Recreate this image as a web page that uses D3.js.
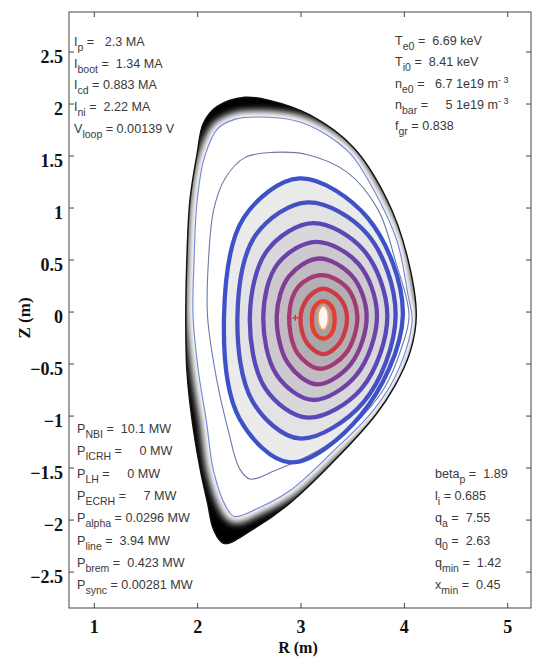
<!DOCTYPE html>
<html>
<head>
<meta charset="utf-8">
<script src="https://cdn.jsdelivr.net/npm/d3@7"></script>
<style>
  body { margin: 0; background: #fff; }
  text { white-space: pre; }
</style>
</head>
<body>
<div id="chart"></div>
<script>
// axis ticks
const xTicks = [1, 2, 3, 4, 5];
const yTicks = [-2.5, -2, -1.5, -1, -0.5, 0, 0.5, 1, 1.5, 2, 2.5];

// last closed flux surface (R, Z in m)
const boundary = [
  [2.46, 2.06], [2.70, 2.03], [3.09, 1.89], [3.51, 1.58], [3.84, 1.07], [4.03, 0.54],
  [4.12, -0.04], [4.06, -0.39], [3.91, -0.72], [3.73, -0.99], [3.38, -1.38], [2.90, -1.84],
  [2.56, -2.08], [2.26, -2.23], [2.16, -2.10], [2.10, -1.84], [2.03, -1.52], [1.95, -1.04],
  [1.90, -0.56], [1.89, -0.04], [1.90, 0.50], [1.93, 1.07], [2.00, 1.52], [2.06, 1.81], [2.19, 1.97]
];

// two thin outer flux contours
const thinOuter = [
  [2.58, 1.87], [2.97, 1.83], [3.22, 1.72], [3.48, 1.52], [3.68, 1.22], [3.93, 0.69], [4.04, 0.16],
  [4.08, -0.08], [4.02, -0.37], [3.87, -0.71], [3.67, -0.99], [3.33, -1.33], [2.90, -1.72],
  [2.59, -1.89], [2.36, -1.97], [2.28, -1.88], [2.16, -1.54], [2.09, -1.06], [2.01, -0.56],
  [1.96, -0.04], [1.97, 0.50], [2.00, 1.07], [2.07, 1.48], [2.20, 1.76], [2.37, 1.85]
];
const thinInner = [
  [2.73, 1.53], [3.06, 1.51], [3.45, 1.34], [3.75, 0.98], [3.92, 0.48], [4.05, -0.04],
  [3.97, -0.37], [3.82, -0.72], [3.63, -0.97], [3.38, -1.20], [3.09, -1.38], [2.75, -1.53],
  [2.51, -1.61], [2.41, -1.51], [2.30, -1.14], [2.19, -0.66], [2.10, -0.04], [2.11, 0.50],
  [2.16, 0.98], [2.27, 1.28], [2.46, 1.48]
];

// thick flux contours, outer to inner (right, upper right, top, upper left, left, lower left, bottom, lower right)
const rings = [
  [[3.99, -0.04], [3.65, 0.90], [2.99, 1.28], [2.45, 0.90], [2.26, -0.04], [2.41, -1.03], [2.90, -1.45], [3.58, -1.00]],
  [[3.92, -0.04], [3.65, 0.74], [3.07, 1.05], [2.57, 0.74], [2.39, -0.04], [2.54, -0.87], [2.99, -1.22], [3.61, -0.87]],
  [[3.84, -0.04], [3.61, 0.59], [3.12, 0.85], [2.68, 0.59], [2.51, -0.04], [2.66, -0.74], [3.07, -1.02], [3.59, -0.74]],
  [[3.74, -0.04], [3.56, 0.46], [3.15, 0.67], [2.78, 0.46], [2.64, -0.04], [2.77, -0.61], [3.12, -0.85], [3.54, -0.61]],
  [[3.64, -0.04], [3.50, 0.34], [3.18, 0.51], [2.89, 0.34], [2.77, -0.04], [2.88, -0.50], [3.16, -0.70], [3.49, -0.50]],
  [[3.55, -0.04], [3.44, 0.24], [3.20, 0.35], [2.98, 0.24], [2.89, -0.04], [2.97, -0.40], [3.19, -0.55], [3.44, -0.40]],
  [[3.45, -0.06], [3.38, 0.13], [3.22, 0.22], [3.07, 0.13], [3.00, -0.06], [3.06, -0.30], [3.22, -0.41], [3.38, -0.30]],
  [[3.33, -0.06], [3.30, 0.05], [3.22, 0.10], [3.14, 0.05], [3.11, -0.06], [3.14, -0.21], [3.22, -0.26], [3.30, -0.21]]
];
const ringColors = ["#3d52c9", "#4650c2", "#5848b8", "#6b42aa", "#7f3d94", "#a33a72", "#cc3a48", "#e63e2e"];
const ringFills = ["#ebebeb", "#e3e2e4", "#d9d7da", "#cdcacf", "#c0bcc1", "#b3afb3", "#a8a6a8", "#a0a0a0"];

// hot core spot and magnetic axis marker
const coreSpot = [[3.27, -0.06], [3.255, 0.02], [3.22, 0.055], [3.185, 0.02], [3.17, -0.06], [3.185, -0.14], [3.22, -0.175], [3.255, -0.14]];
const axisMark = [2.95, -0.06];

// annotation blocks: [symbol, subscript, rest, superscript]
const infoTopLeft = [
  ["I", "p", " =   2.3 MA"],
  ["I", "boot", " =  1.34 MA"],
  ["I", "cd", " = 0.883 MA"],
  ["I", "ni", " =  2.22 MA"],
  ["V", "loop", " = 0.00139 V"]
];
const infoTopRight = [
  ["T", "e0", " =  6.69 keV"],
  ["T", "i0", " =  8.41 keV"],
  ["n", "e0", " =   6.7 1e19 m", "- 3"],
  ["n", "bar", " =     5 1e19 m", "- 3"],
  ["f", "gr", " = 0.838"]
];
const infoBottomLeft = [
  ["P", "NBI", " =  10.1 MW"],
  ["P", "ICRH", " =     0 MW"],
  ["P", "LH", " =     0 MW"],
  ["P", "ECRH", " =     7 MW"],
  ["P", "alpha", " = 0.0296 MW"],
  ["P", "line", " =  3.94 MW"],
  ["P", "brem", " =  0.423 MW"],
  ["P", "sync", " = 0.00281 MW"]
];
const infoBottomRight = [
  ["beta", "p", " =  1.89"],
  ["l", "i", " = 0.685"],
  ["q", "a", " =  7.55"],
  ["q", "0", " =  2.63"],
  ["q", "min", " =  1.42"],
  ["x", "min", " =  0.45"]
];

// set the dimensions and margins of the plot
const margin = {top: 12, right: 3, bottom: 51, left: 69},
  width = 534 - margin.left - margin.right,
  height = 659 - margin.top - margin.bottom;

const svg = d3.select("#chart")
  .append("svg")
  .attr("width", 534)
  .attr("height", 659);

const g = svg.append("g")
  .attr("transform", `translate(${margin.left},${margin.top})`);

const x = d3.scaleLinear().domain([0.76, 5.23]).range([0, width]);
const y = d3.scaleLinear().domain([-2.85, 2.88]).range([height, 0]);

const contour = d3.line()
  .x(d => x(d[0]))
  .y(d => y(d[1]))
  .curve(d3.curveCatmullRomClosed.alpha(0.5));

const defs = svg.append("defs");
defs.append("clipPath").attr("id", "plasma")
  .append("path").attr("d", contour(boundary));
defs.append("filter").attr("id", "soft")
  .attr("x", "-20%").attr("y", "-20%").attr("width", "140%").attr("height", "140%")
  .append("feGaussianBlur").attr("stdDeviation", 3.5);

// dark edge fading to white inside the plasma
g.append("path").attr("d", contour(boundary)).attr("fill", "#000");
g.append("g").attr("clip-path", "url(#plasma)")
  .append("path")
  .attr("d", contour(thinOuter))
  .attr("fill", "#fff").attr("stroke", "#fff").attr("stroke-width", 13)
  .attr("filter", "url(#soft)");

// gray fills inside the thick contours
g.append("g").selectAll("path")
  .data(rings)
  .join("path")
  .attr("d", d => contour(d))
  .attr("fill", (d, i) => ringFills[i]);

// thin contours
g.append("path").attr("d", contour(thinOuter))
  .attr("fill", "none").attr("stroke", "#7286d8").attr("stroke-width", 1.1);
g.append("path").attr("d", contour(thinInner))
  .attr("fill", "none").attr("stroke", "#6d7aa6").attr("stroke-width", 1.1);

// thick contours
g.append("g").selectAll("path")
  .data(rings)
  .join("path")
  .attr("d", d => contour(d))
  .attr("fill", "none")
  .attr("stroke", (d, i) => ringColors[i])
  .attr("stroke-width", 4.3);

// core
g.append("path").attr("d", contour(coreSpot))
  .attr("fill", "#fff7ee").attr("stroke", "#f2a070").attr("stroke-width", 1.5);

// boundary edge
g.append("path").attr("d", contour(boundary))
  .attr("fill", "none").attr("stroke", "#111").attr("stroke-width", 1.4);

// magnetic axis marker
g.append("path")
  .attr("d", `M${x(axisMark[0]) - 3},${y(axisMark[1])}h6M${x(axisMark[0])},${y(axisMark[1]) - 3}v6`)
  .attr("stroke", "#e03020").attr("stroke-width", 1.2);

// axes (inward ticks on all sides)
const styleAxis = sel => {
  sel.select(".domain").remove();
  sel.selectAll(".tick line").attr("stroke", "#444");
  sel.selectAll(".tick text")
    .attr("fill", "#111")
    .attr("font-family", "'Liberation Serif', 'DejaVu Serif', serif")
    .attr("font-weight", "bold")
    .attr("font-size", "18px");
};
g.append("g")
  .attr("transform", `translate(0,${height})`)
  .call(d3.axisBottom(x).tickValues(xTicks).tickSizeInner(-5).tickSizeOuter(0).tickPadding(12).tickFormat(d3.format("d")))
  .call(styleAxis);
g.append("g")
  .call(d3.axisTop(x).tickValues(xTicks).tickSizeInner(-5).tickSizeOuter(0).tickFormat(""))
  .call(styleAxis);
g.append("g")
  .call(d3.axisLeft(y).tickValues(yTicks).tickSizeInner(-5).tickSizeOuter(0).tickPadding(6).tickFormat(d3.format("")))
  .call(styleAxis)
  .selectAll(".tick text").attr("dy", "0.6em");
g.append("g")
  .attr("transform", `translate(${width},0)`)
  .call(d3.axisRight(y).tickValues(yTicks).tickSizeInner(-5).tickSizeOuter(0).tickFormat(""))
  .call(styleAxis);

// frame
g.append("rect")
  .attr("width", width).attr("height", height)
  .attr("fill", "none").attr("stroke", "#444").attr("stroke-width", 1);

// axis labels
svg.append("text")
  .attr("x", 298).attr("y", 653)
  .attr("text-anchor", "middle")
  .attr("font-family", "'Liberation Serif', serif").attr("font-weight", "bold").attr("font-size", "16px")
  .attr("fill", "#111")
  .text("R (m)");
svg.append("text")
  .attr("transform", "translate(30,318) rotate(-90)")
  .attr("text-anchor", "middle")
  .attr("font-family", "'Liberation Serif', serif").attr("font-weight", "bold").attr("font-size", "17px")
  .attr("fill", "#111")
  .text("Z (m)");

// annotation text
const infoBlock = (rows, x0, y0, step) => {
  rows.forEach((r, i) => {
    const t = svg.append("text")
      .attr("x", x0).attr("y", y0 + i * step)
      .attr("font-family", "'Liberation Sans', Arial, sans-serif")
      .attr("font-size", "12.6px")
      .attr("fill", "#3a3a3a");
    t.append("tspan").text(r[0]);
    t.append("tspan").attr("dy", 5).attr("font-size", "10.5px").text(r[1]);
    t.append("tspan").attr("dy", -5).text(r[2]);
    if (r[3]) t.append("tspan").attr("dy", -5).attr("font-size", "9px").text(r[3]);
  });
};
infoBlock(infoTopLeft, 74, 46, 21.7);
infoBlock(infoTopRight, 395, 45, 21.3);
infoBlock(infoBottomLeft, 77, 433, 22.3);
infoBlock(infoBottomRight, 435, 478, 22.2);
</script>
</body>
</html>
